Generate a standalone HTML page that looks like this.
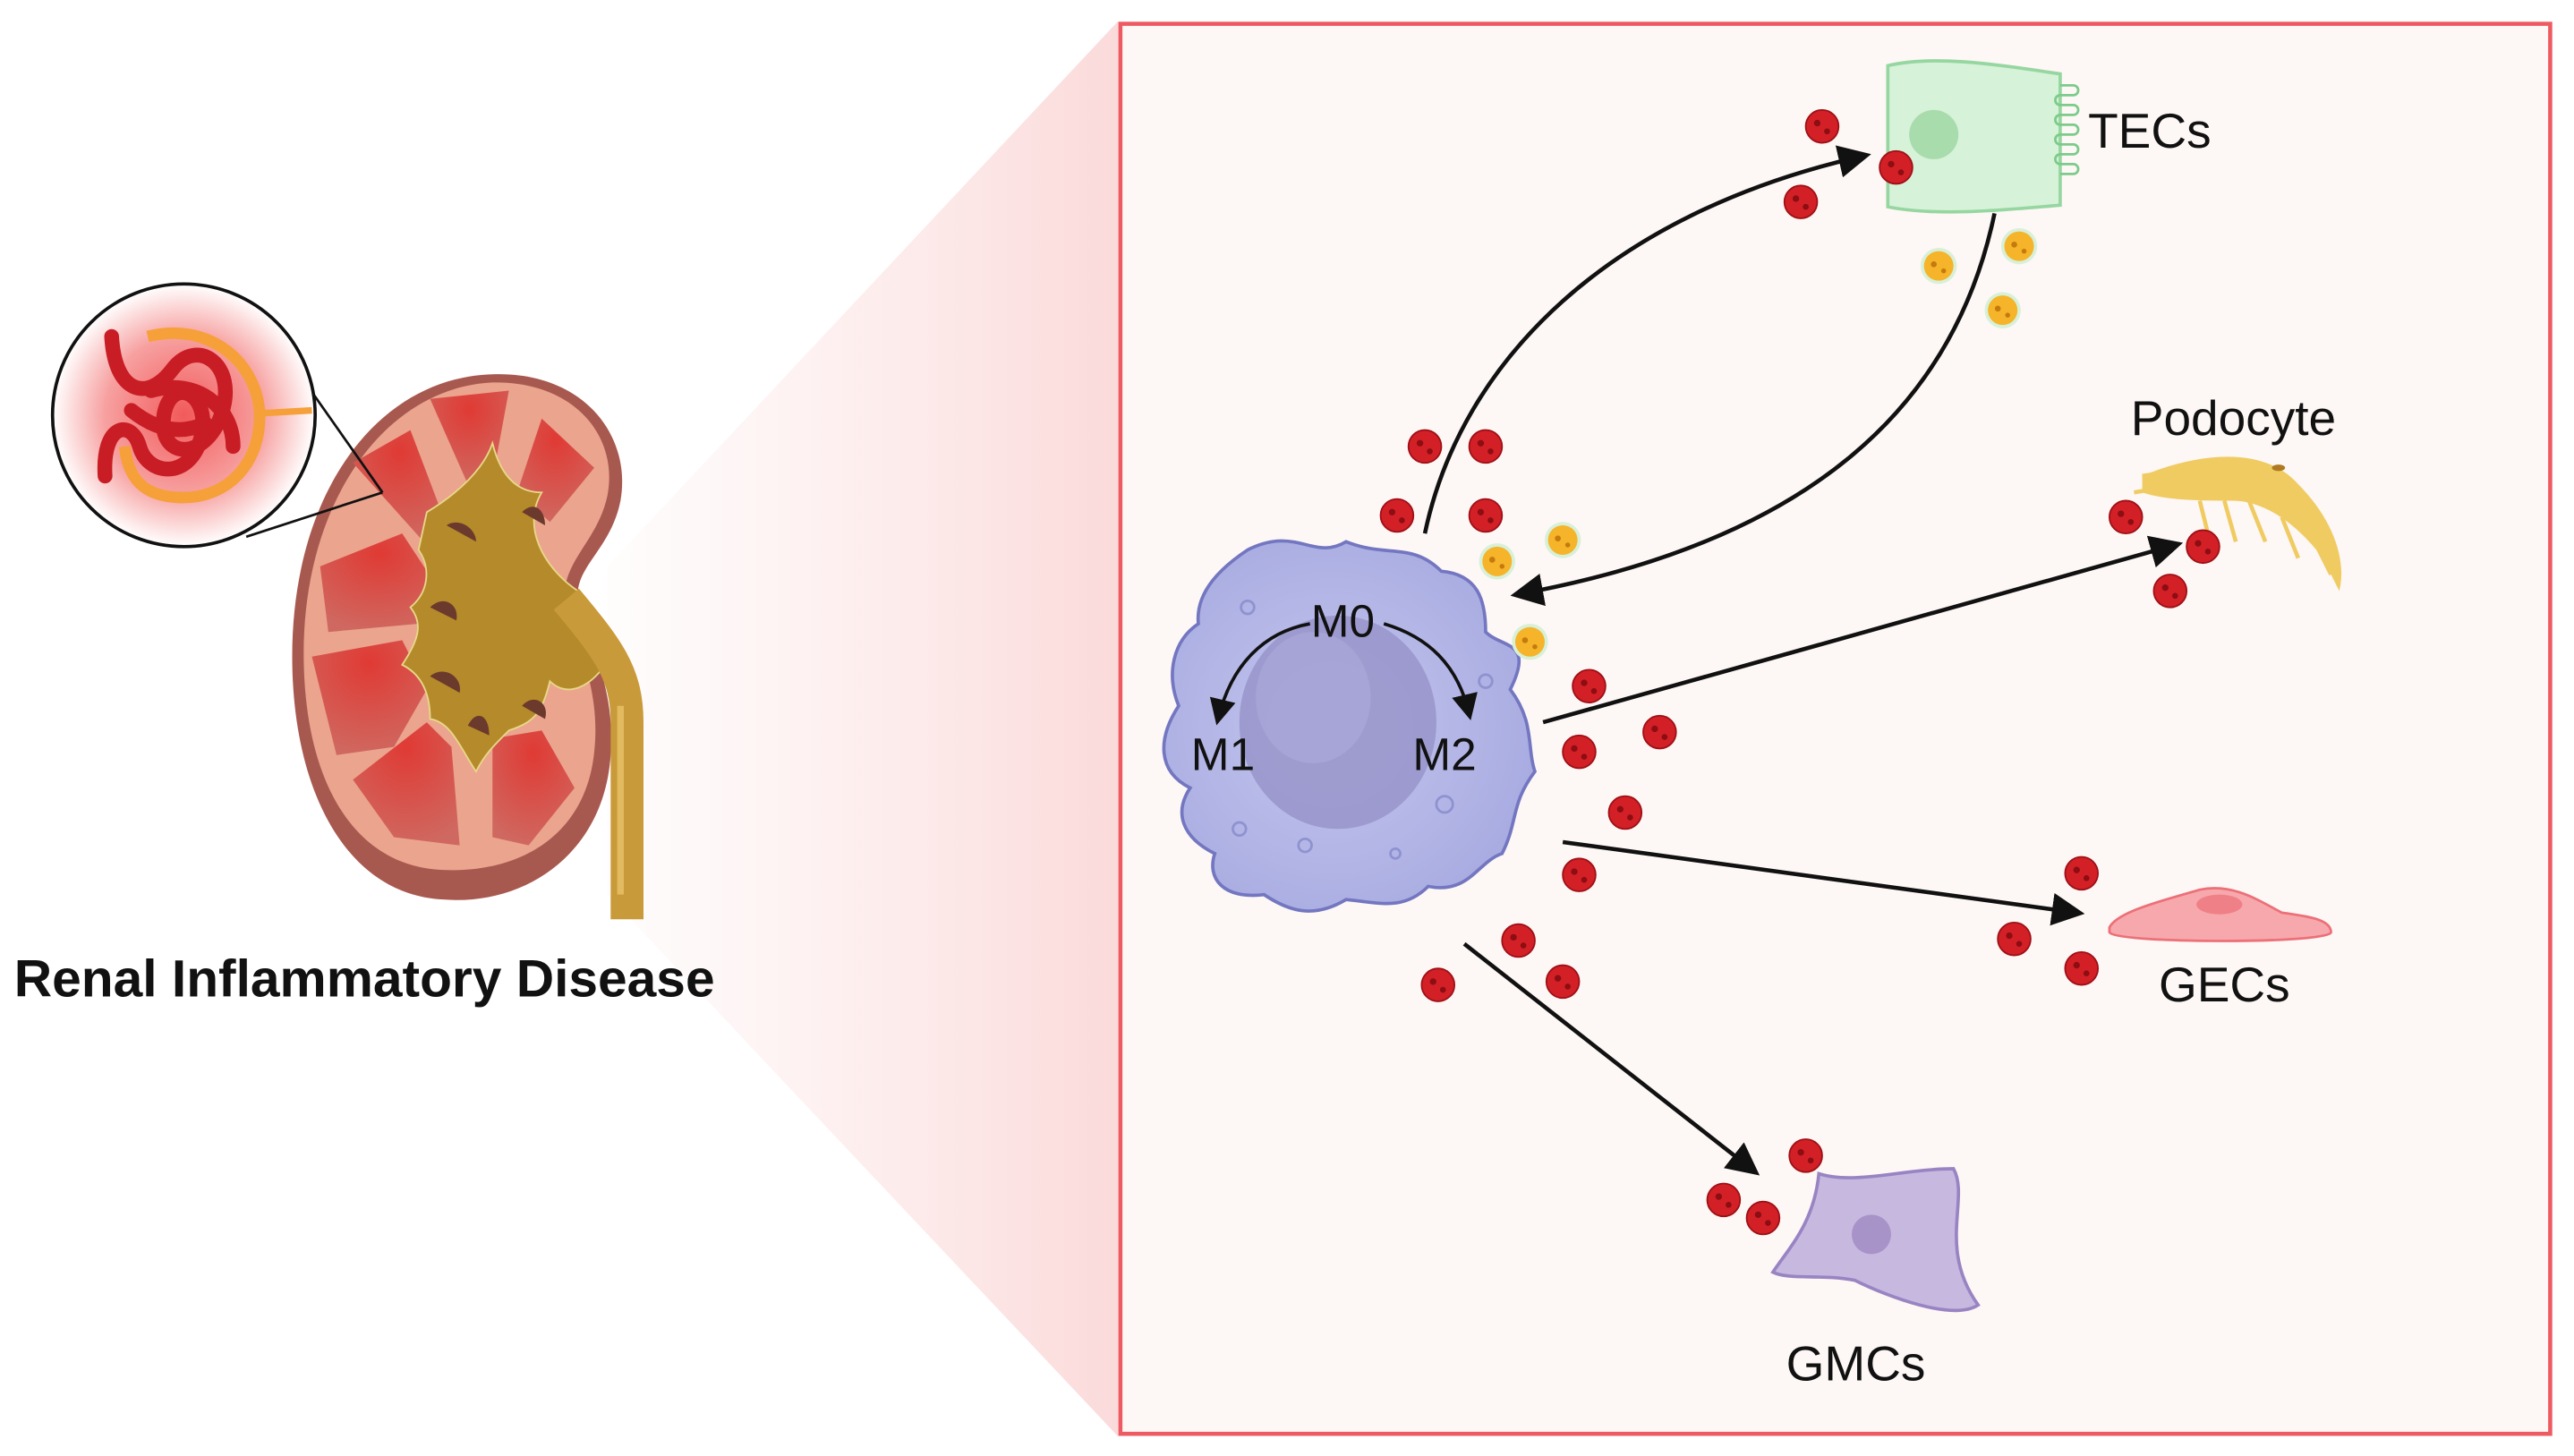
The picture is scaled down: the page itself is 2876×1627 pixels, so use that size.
<!DOCTYPE html>
<html><head><meta charset="utf-8"><style>
html,body{margin:0;padding:0;background:#fff;}
svg{display:block;}
text{font-family:"Liberation Sans",sans-serif;}
</style></head><body>
<svg width="2876" height="1627" viewBox="0 0 1568 887" preserveAspectRatio="none" xmlns="http://www.w3.org/2000/svg">
<defs>
<linearGradient id="wedge" x1="0" y1="0" x2="1" y2="0">
<stop offset="0" stop-color="#fde6e6" stop-opacity="0.1"/>
<stop offset="1" stop-color="#fbdada"/>
</linearGradient>
<radialGradient id="glow" cx="0.5" cy="0.5" r="0.5">
<stop offset="0" stop-color="#f25a5a"/>
<stop offset="0.6" stop-color="#f7a0a0"/>
<stop offset="1" stop-color="#fff"/>
</radialGradient>
<radialGradient id="pyr" cx="0.5" cy="0.2" r="0.8">
<stop offset="0" stop-color="#e03a34"/>
<stop offset="1" stop-color="#cf6860"/>
</radialGradient>
<radialGradient id="mac" cx="0.45" cy="0.5" r="0.6">
<stop offset="0" stop-color="#c4c6ee"/>
<stop offset="1" stop-color="#a7aae0"/>
</radialGradient>
<marker id="ah" markerWidth="8" markerHeight="8" refX="6" refY="4" orient="auto" markerUnits="strokeWidth">
<path d="M0,0 L8,4 L0,8 Z" fill="#111"/>
</marker>
<g id="rd"><circle r="10" fill="#d32027" stroke="#9e1016" stroke-width="1"/><circle cx="-3" cy="-2" r="2" fill="#8c0d12"/><circle cx="3" cy="3" r="1.8" fill="#8c0d12"/></g>
<g id="yd"><circle r="11" fill="#d8f0d8"/><circle r="9" fill="#f5b429"/><circle cx="-3" cy="-1" r="1.8" fill="#c47b0c"/><circle cx="3" cy="3" r="1.5" fill="#c47b0c"/></g>
</defs>

<polygon points="370,345 681,13 681,875 370,545" fill="url(#wedge)"/>

<rect x="682.5" y="14.5" width="871" height="859" fill="#fdf7f5" stroke="#ee5a61" stroke-width="2.5"/>

<!-- kidney -->
<path d="M300 228 C355 226 385 265 378 305 C372 335 350 345 352 365 C360 395 375 420 372 460 C368 520 320 552 270 548 C210 545 178 480 178 400 C178 300 230 230 300 228 Z" fill="#a8594f"/>
<path d="M300 233 C350 232 377 266 370 302 C364 330 342 342 344 366 C352 395 366 420 362 458 C357 508 318 532 270 530 C215 528 185 475 185 398 C185 305 235 236 300 233 Z" fill="#eba48e"/>
<g fill="url(#pyr)">
<path d="M262 243 L310 238 L300 292 L285 295 Z"/>
<path d="M330 255 L362 285 L335 318 L315 300 Z"/>
<path d="M215 282 L250 262 L272 320 L258 330 Z"/>
<path d="M195 345 L245 325 L268 360 L255 380 L200 385 Z"/>
<path d="M190 400 L245 390 L260 420 L240 455 L205 460 Z"/>
<path d="M215 475 L260 440 L275 455 L280 515 L240 510 Z"/>
<path d="M300 450 L330 445 L350 480 L322 515 L300 510 Z"/>
</g>
<path d="M260 312 C280 300 295 285 300 270 C305 290 315 300 330 300 C318 320 330 345 352 360 C362 380 365 392 372 400 C360 420 345 425 335 415 C330 435 325 440 310 445 C300 455 295 460 290 470 C280 455 275 440 262 438 C262 420 255 410 245 405 C255 390 258 380 250 370 C262 360 262 345 255 335 Z" fill="#b58a2a" stroke="#e8d88a" stroke-width="1"/>
<g fill="#6b3a2c">
<path d="M272 320 C280 315 290 322 290 330 Z"/>
<path d="M262 370 C270 362 280 368 278 378 Z"/>
<path d="M262 412 C270 405 282 412 280 422 Z"/>
<path d="M285 442 C290 432 298 435 298 448 Z"/>
<path d="M318 430 C325 422 335 428 332 438 Z"/>
<path d="M318 312 C325 305 332 310 332 320 Z"/>
</g>
<path d="M345 365 C370 395 382 410 382 440 L382 560" fill="none" stroke="#c99a3a" stroke-width="20"/>
<path d="M378 430 L378 545" stroke="#e2bb60" stroke-width="4" fill="none"/>

<!-- inset circle -->
<line x1="233" y1="300" x2="188" y2="236" stroke="#111" stroke-width="1.5"/>
<line x1="233" y1="300" x2="150" y2="327" stroke="#111" stroke-width="1.5"/>
<circle cx="112" cy="253" r="80" fill="url(#glow)" stroke="#111" stroke-width="2"/>
<path d="M90 205 C125 196 155 218 158 250 C160 282 138 305 108 303 C88 302 78 292 76 272" fill="none" stroke="#f6a03a" stroke-width="7"/>
<path d="M155 252 L190 250" stroke="#f6a03a" stroke-width="4"/>
<g fill="none" stroke="#c81d24" stroke-width="9" stroke-linecap="round">
<path d="M68 205 C70 240 90 245 105 225 C120 205 145 222 135 252 C125 282 95 280 100 252 C105 228 130 240 122 268 C115 292 90 290 85 272 C80 255 62 258 64 290"/>
<path d="M92 238 C120 230 142 248 142 272"/>
<path d="M80 250 C95 262 110 265 125 258"/>
</g>

<text x="222" y="607" font-size="32" font-weight="bold" text-anchor="middle" fill="#111">Renal Inflammatory Disease</text>

<g fill="none" stroke="#111" stroke-width="2.5" marker-end="url(#ah)">
<path d="M868 325 C890 220 980 130 1135 95"/>
<path d="M1215 130 C1190 250 1100 330 925 362"/>
<path d="M940 440 L1325 332"/>
<path d="M952 513 L1265 556"/>
<path d="M892 575 L1068 713"/>
</g>

<path d="M760 335 C790 320 800 342 820 330 C845 340 860 330 878 348 C900 350 905 365 905 385 C915 395 935 390 920 420 C935 440 930 455 935 470 C920 490 925 500 915 520 C900 525 895 545 870 540 C855 555 840 550 820 548 C800 560 785 555 770 545 C745 548 735 535 740 520 C720 510 715 495 725 480 C705 470 705 450 718 430 C710 410 715 390 730 380 C728 360 745 345 760 335 Z" fill="url(#mac)" stroke="#7376c0" stroke-width="2"/>
<ellipse cx="815" cy="440" rx="60" ry="65" fill="#9a97cc" opacity="0.9"/>
<ellipse cx="800" cy="425" rx="35" ry="40" fill="#a9a6d8" opacity="0.8"/>
<g fill="none" stroke="#8e92cf" stroke-width="1.5">
<circle cx="760" cy="370" r="4"/><circle cx="880" cy="490" r="5"/><circle cx="795" cy="515" r="4"/><circle cx="755" cy="505" r="4"/><circle cx="905" cy="415" r="4"/><circle cx="850" cy="520" r="3"/>
</g>
<g fill="none" stroke="#111" stroke-width="2" marker-end="url(#ah)">
<path d="M798 380 C770 385 750 405 742 438"/>
<path d="M843 380 C870 388 888 405 895 435"/>
</g>
<text x="818" y="388" font-size="28" text-anchor="middle" fill="#111">M0</text>
<text x="745" y="469" font-size="28" text-anchor="middle" fill="#111">M1</text>
<text x="880" y="469" font-size="28" text-anchor="middle" fill="#111">M2</text>

<path d="M1150 40 C1180 33 1220 40 1255 45 L1255 125 C1220 128 1180 132 1150 126 Z" fill="#d6f2d8" stroke="#96d6a0" stroke-width="2"/>
<circle cx="1178" cy="82" r="15" fill="#a8dcac"/>
<path d="M1255 52 h8 a3 3 0 0 1 0 6 h-8 a3 3 0 0 0 0 6 h8 a3 3 0 0 1 0 6 h-8 a3 3 0 0 0 0 6 h8 a3 3 0 0 1 0 6 h-8 a3 3 0 0 0 0 6 h8 a3 3 0 0 1 0 6 h-8 a3 3 0 0 0 0 6 h8 a3 3 0 0 1 0 6 h-8" fill="none" stroke="#7ccb8a" stroke-width="1.5"/>
<text x="1272" y="90" font-size="30" fill="#111">TECs</text>

<text x="1298" y="265" font-size="30" fill="#111">Podocyte</text>
<path d="M1305 290 C1340 275 1380 272 1400 295 C1420 315 1430 340 1425 360 L1415 340 C1400 320 1380 305 1360 305 C1340 305 1320 305 1305 300 Z" fill="#f0cb62"/>
<g stroke="#f0cb62" stroke-width="2.5">
<path d="M1300 300 L1330 295 M1305 290 L1335 285 M1340 305 L1345 325 M1355 305 L1362 330 M1370 305 L1380 330 M1390 315 L1400 340 M1405 320 L1420 350"/>
</g>
<ellipse cx="1388" cy="285" rx="4" ry="2" fill="#b07a20"/>

<path d="M1285 565 C1290 555 1320 548 1340 542 C1360 538 1375 548 1390 556 C1405 558 1420 560 1420 568 C1418 575 1290 575 1285 568 Z" fill="#f7a8ad" stroke="#ec7078" stroke-width="1.5"/>
<ellipse cx="1352" cy="551" rx="14" ry="6" fill="#ef8088"/>
<text x="1315" y="610" font-size="30" fill="#111">GECs</text>

<path d="M1108 715 C1130 722 1160 712 1190 712 C1200 730 1180 760 1205 795 C1190 805 1150 790 1130 780 C1110 776 1090 780 1080 775 C1090 760 1105 745 1108 715 Z" fill="#c7b8e0" stroke="#9884c2" stroke-width="2"/>
<circle cx="1140" cy="752" r="12" fill="#a893c8"/>
<text x="1088" y="841" font-size="30" fill="#111">GMCs</text>

<g>
<use href="#rd" x="1110" y="77"/><use href="#rd" x="1155" y="102"/><use href="#rd" x="1097" y="123"/>
<use href="#rd" x="868" y="272"/><use href="#rd" x="905" y="272"/><use href="#rd" x="851" y="314"/><use href="#rd" x="905" y="314"/>
<use href="#rd" x="968" y="418"/><use href="#rd" x="1011" y="446"/><use href="#rd" x="962" y="458"/><use href="#rd" x="990" y="495"/><use href="#rd" x="962" y="533"/>
<use href="#rd" x="925" y="573"/><use href="#rd" x="876" y="600"/><use href="#rd" x="952" y="598"/>
<use href="#rd" x="1295" y="315"/><use href="#rd" x="1342" y="333"/><use href="#rd" x="1322" y="360"/>
<use href="#rd" x="1268" y="532"/><use href="#rd" x="1227" y="572"/><use href="#rd" x="1268" y="590"/>
<use href="#rd" x="1100" y="704"/><use href="#rd" x="1050" y="731"/><use href="#rd" x="1074" y="742"/>
<use href="#yd" x="1230" y="150"/><use href="#yd" x="1181" y="162"/><use href="#yd" x="1220" y="189"/>
<use href="#yd" x="952" y="329"/><use href="#yd" x="912" y="342"/><use href="#yd" x="932" y="391"/>
</g>
</svg>
</body></html>
